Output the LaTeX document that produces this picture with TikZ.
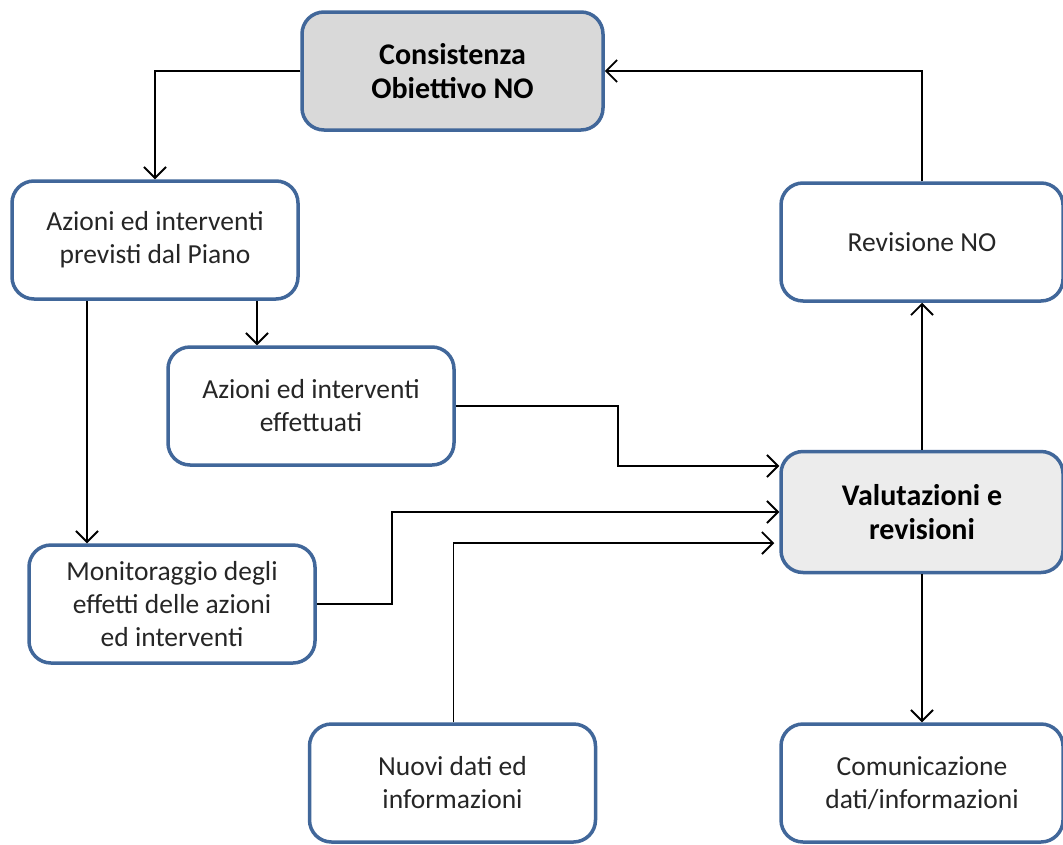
\documentclass[tikz,border=0pt]{standalone}
\usepackage{fontspec}
\setmainfont{Carlito}
\usepackage{xcolor}
\usepackage{tikz}
\usetikzlibrary{arrows.meta,positioning}

\definecolor{boxline}{HTML}{41679A}
\definecolor{graytop}{HTML}{D9D9D9}
\definecolor{graymid}{HTML}{ECECEC}
\definecolor{txt}{HTML}{262626}

\begin{document}
\begin{tikzpicture}[
  x=1pt, y=-1pt,
  blk/.style={draw=boxline,line width=3.5pt,rounded corners=22pt,align=center,fill=white,
    text=txt,font=\fontsize{27.5}{33}\selectfont,minimum width=286pt,minimum height=118pt,inner sep=2pt},
  keyblk/.style={blk,fill=graytop,text=black,font=\fontsize{30}{34}\selectfont\bfseries},
  arr/.style={line width=1.6pt,-{Straight Barb[length=11pt,width=22pt,line width=1.8pt]}}
]
\useasboundingbox[fill=white] (0,0) rectangle (1063,844);

\node[keyblk,minimum width=301pt] (cons) at (452.5,71) {Consistenza\\Obiettivo NO};
\node[blk] (prev) at (155,240) {Azioni ed interventi\\previsti dal Piano};
\node[blk,minimum width=282pt] (rev) at (922,242) {Revisione NO};
\node[blk] (eff) at (311,406) {Azioni ed interventi\\effettuati};
\node[keyblk,fill=graymid,minimum width=282pt,minimum height=121pt] (val) at (922,512) {Valutazioni e\\revisioni};
\node[blk] (mon) at (172,604) {Monitoraggio degli\\effetti delle azioni\\ed interventi};
\node[blk] (nuovi) at (452.5,783) {Nuovi dati ed\\informazioni};
\node[blk,minimum width=282pt] (com) at (922,783) {Comunicazione\\dati/informazioni};

\draw[arr] (cons.west) -| (prev.north);
\draw[arr] (rev.north) |- (cons.east);
\draw[arr] ([xshift=-68pt]prev.south) -- ([xshift=-68pt]prev.south |- mon.north);
\draw[arr] ([xshift=102pt]prev.south) -- ([xshift=102pt]prev.south |- eff.north);
\draw[arr] (eff.east) -- ++(162,0) |- ([yshift=46pt]val.west);
\draw[arr] (mon.east) -- ++(75,0) |- (val.west);
\draw[arr] ([xshift=1pt]nuovi.north) |- ([yshift=-31pt,xshift=-5pt]val.west);
\draw[arr] (val.north) -- (rev.south);
\draw[arr] (val.south) -- (com.north);
\end{tikzpicture}
\end{document}
